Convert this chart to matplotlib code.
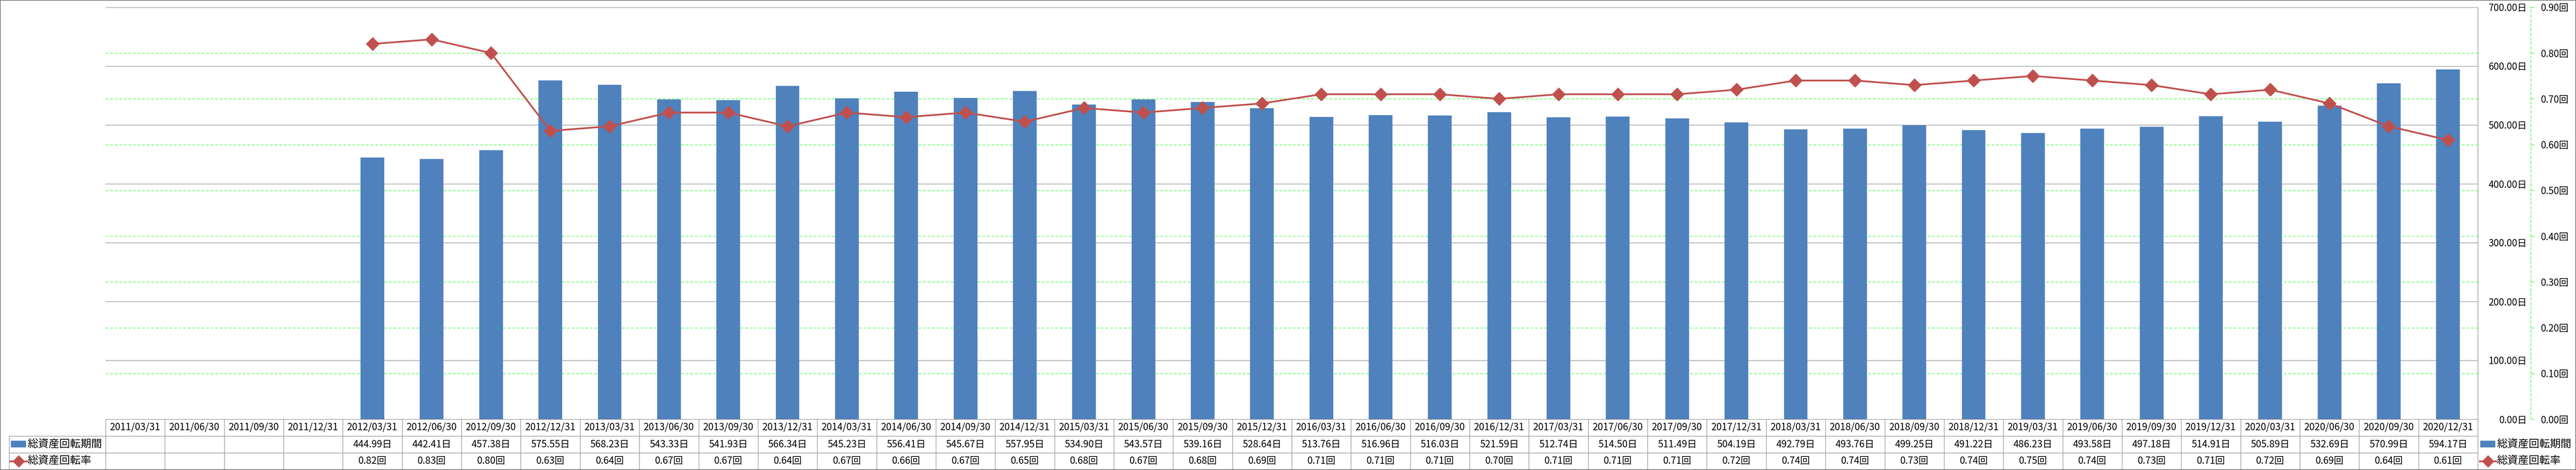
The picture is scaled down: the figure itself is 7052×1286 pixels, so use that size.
import numpy as np
import matplotlib.pyplot as plt
from matplotlib.patches import Rectangle
from matplotlib.lines import Line2D
from matplotlib.transforms import blended_transform_factory

plt.rcParams['font.family'] = ['Noto Sans CJK JP', 'DejaVu Sans']

# quarter-end dates
dates = ['2011/03/31', '2011/06/30', '2011/09/30', '2011/12/31',
         '2012/03/31', '2012/06/30', '2012/09/30', '2012/12/31',
         '2013/03/31', '2013/06/30', '2013/09/30', '2013/12/31',
         '2014/03/31', '2014/06/30', '2014/09/30', '2014/12/31',
         '2015/03/31', '2015/06/30', '2015/09/30', '2015/12/31',
         '2016/03/31', '2016/06/30', '2016/09/30', '2016/12/31',
         '2017/03/31', '2017/06/30', '2017/09/30', '2017/12/31',
         '2018/03/31', '2018/06/30', '2018/09/30', '2018/12/31',
         '2019/03/31', '2019/06/30', '2019/09/30', '2019/12/31',
         '2020/03/31', '2020/06/30', '2020/09/30', '2020/12/31']

nan = np.nan
# 総資産回転期間 (days)
period_days = [nan, nan, nan, nan,
               444.99, 442.41, 457.38, 575.55,
               568.23, 543.33, 541.93, 566.34,
               545.23, 556.41, 545.67, 557.95,
               534.90, 543.57, 539.16, 528.64,
               513.76, 516.96, 516.03, 521.59,
               512.74, 514.50, 511.49, 504.19,
               492.79, 493.76, 499.25, 491.22,
               486.23, 493.58, 497.18, 514.91,
               505.89, 532.69, 570.99, 594.17]
# 総資産回転率 (times)
turnover = [nan, nan, nan, nan,
            0.82, 0.83, 0.80, 0.63,
            0.64, 0.67, 0.67, 0.64,
            0.67, 0.66, 0.67, 0.65,
            0.68, 0.67, 0.68, 0.69,
            0.71, 0.71, 0.71, 0.70,
            0.71, 0.71, 0.71, 0.72,
            0.74, 0.74, 0.73, 0.74,
            0.75, 0.74, 0.73, 0.71,
            0.72, 0.69, 0.64, 0.61]

day_ticks = [0, 100, 200, 300, 400, 500, 600, 700]
rate_ticks = [0.0, 0.1, 0.2, 0.3, 0.4, 0.5, 0.6, 0.7, 0.8, 0.9]

BLUE = '#4F81BD'
RED = '#C0504D'
GRAY = '#878787'
GREEN = '#00FF00'

W, H = 7052, 1286
fig = plt.figure(figsize=(W / 100, H / 100), dpi=100)


def fx(px):
    return px / W


def fy(py):
    return 1 - py / H


left, right, top, bottom = 289, 6783, 20, 1147
ax = fig.add_axes([fx(left), fy(bottom), fx(right) - fx(left), fy(top) - fy(bottom)])
ax.patch.set_alpha(0)
ax2 = ax.twinx()

x = np.arange(len(dates))
ax.bar(x, period_days, width=0.4, color=BLUE, zorder=3)
ax.set_xlim(-0.5, len(dates) - 0.5)
ax.set_ylim(0, 700)
ax.set_xticks([])
ax.set_yticks(day_ticks)
ax.set_yticklabels([f'{v:.2f}日' for v in day_ticks])
ax.yaxis.tick_right()
ax.tick_params(axis='y', length=0, pad=97, labelsize=18.7)
for t in ax.yaxis.get_major_ticks():
    t.label2.set_horizontalalignment('right')
for s in ['left', 'top', 'bottom']:
    ax.spines[s].set_visible(False)
ax.spines['right'].set_color(GRAY)
ax.spines['right'].set_linewidth(1.0)

# gridlines behind bars
for v in day_ticks[1:]:
    ax.axhline(v, color=GRAY, lw=1.0, zorder=1)
for t in rate_ticks[1:-1]:
    ax.axhline(t * 700 / 0.9, color=GREEN, lw=0.9, ls=(0, (6, 4)), zorder=1)

ax2.set_xlim(-0.5, len(dates) - 0.5)
ax2.set_ylim(0, 0.9)
ax2.plot(x, turnover, color=RED, lw=3.4, marker='D', ms=17, mfc=RED, mec=RED,
         mew=2, solid_joinstyle='round', zorder=4)
ax2.set_yticks(rate_ticks)
ax2.set_yticklabels([f'{v:.2f}回' for v in rate_ticks])
ax2.spines['right'].set_position(('axes', (6928 - left) / (right - left)))
ax2.spines['right'].set_color(GREEN)
ax2.spines['right'].set_linestyle((0, (6, 4)))
ax2.spines['right'].set_linewidth(0.9)
for s in ['left', 'top', 'bottom']:
    ax2.spines[s].set_visible(False)
ax2.tick_params(axis='y', length=7, width=0.9, color=GREEN, pad=13, labelsize=18.7)

# data table
trans = blended_transform_factory(ax.transData, fig.transFigure)
y0, y1, y2, y3 = fy(1147), fy(1193), fy(1239), fy(1284)
xl, xr = -0.5, len(dates) - 0.5


def tline(xs, ys, tr):
    fig.add_artist(Line2D(xs, ys, transform=tr, color=GRAY, lw=1.0))


tline([xl, xr], [y0, y0], trans)
for yy in (y1, y2, y3):
    tline([xl, xr], [yy, yy], trans)
    tline([fx(25), fx(left)], [yy, yy], fig.transFigure)
for i in range(len(dates) + 1):
    tline([i - 0.5, i - 0.5], [y0, y3], trans)
tline([fx(25), fx(25)], [y1, y3], fig.transFigure)

for i, d in enumerate(dates):
    fig.text(i, (y0 + y1) / 2, d, transform=trans, ha='center', va='center', fontsize=19)
    if not np.isnan(period_days[i]):
        fig.text(i, (y1 + y2) / 2, f'{period_days[i]:.2f}日', transform=trans,
                 ha='center', va='center', fontsize=19)
        fig.text(i, (y2 + y3) / 2, f'{turnover[i]:.2f}回', transform=trans,
                 ha='center', va='center', fontsize=19)


def legend_keys(x0):
    fig.add_artist(Rectangle((fx(x0 + 2), fy(1223)), fx(40), 17 / H,
                             transform=fig.transFigure, color=BLUE))
    fig.add_artist(Line2D([fx(x0), fx(x0 + 46)], [fy(1262), fy(1262)],
                          transform=fig.transFigure, color=RED, lw=3.4))
    fig.add_artist(Line2D([fx(x0 + 23)], [fy(1262)], transform=fig.transFigure,
                          color=RED, marker='D', ms=15, mec=RED, mew=2))
    fig.text(fx(x0 + 47), (y1 + y2) / 2, '総資産回転期間', ha='left', va='center', fontsize=21)
    fig.text(fx(x0 + 47), (y2 + y3) / 2, '総資産回転率', ha='left', va='center', fontsize=21)


legend_keys(28)
legend_keys(6788)

# outer frame
fig.add_artist(Rectangle((0, 0), 1, 1, transform=fig.transFigure, fill=False,
                         ec=GRAY, lw=2.9))

fig.savefig('out.png', dpi=100)
